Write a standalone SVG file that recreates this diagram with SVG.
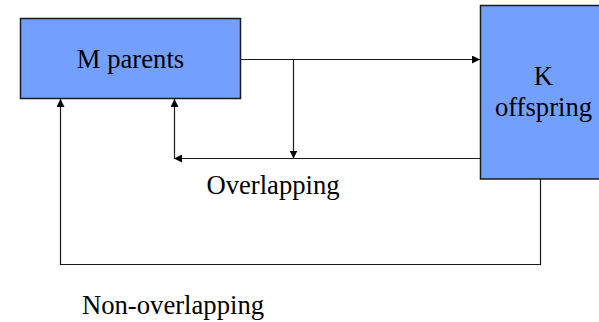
<svg xmlns="http://www.w3.org/2000/svg" width="599" height="322" viewBox="0 0 599 322">
<style>
.box{fill:#73a0fe;stroke:#1a1a1a;stroke-width:1.5}
.lbl{font-family:"Liberation Serif","Times New Roman",serif;font-size:26.67px;fill:#000;text-anchor:middle}
.edge{fill:none;stroke:#1a1a1a;stroke-width:1.2}
</style>
<defs>
<marker id="arr" viewBox="0 0 10 10" refX="10" refY="5" markerWidth="8" markerHeight="8" markerUnits="userSpaceOnUse" orient="auto">
<path d="M0,0 L10,5 L0,10 z" fill="#000"/>
</marker>
</defs>
<rect width="599" height="322" fill="#fff"/>
<g id="connectors">
<line class="edge" x1="240.5" y1="59.5" x2="480" y2="59.5" marker-end="url(#arr)"/>
<line class="edge" x1="293.5" y1="59.5" x2="293.5" y2="158.5" marker-end="url(#arr)"/>
<line class="edge" x1="480.5" y1="158.5" x2="174" y2="158.5" marker-end="url(#arr)"/>
<line class="edge" x1="174.5" y1="158.5" x2="174.5" y2="99" marker-end="url(#arr)"/>
<polyline class="edge" points="540.5,179 540.5,264.5 60.5,264.5 60.5,99" marker-end="url(#arr)"/>
</g>
<g id="m-parents">
<rect class="box" x="20.5" y="18.5" width="220" height="80"/>
<text class="lbl" x="130.5" y="67.5">M parents</text>
</g>
<g id="k-offspring">
<rect class="box" x="480.5" y="5.5" width="126" height="173.5"/>
<text class="lbl" x="543.5" y="85">K</text>
<text class="lbl" x="543.5" y="116">offspring</text>
</g>
<g id="labels">
<text class="lbl" x="273" y="193.5">Overlapping</text>
<text class="lbl" x="173" y="313.5">Non-overlapping</text>
</g>
</svg>
